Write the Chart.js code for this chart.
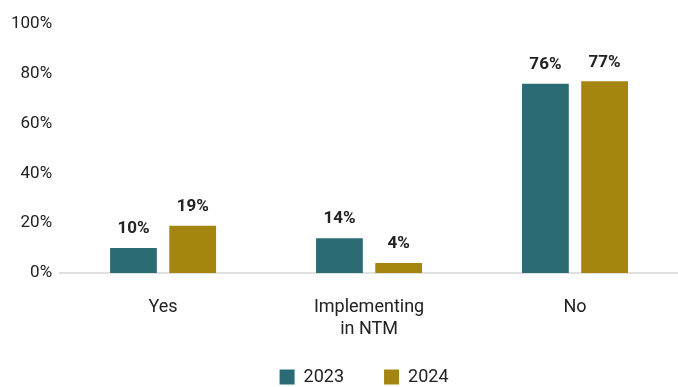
<!DOCTYPE html>
<html>
<head>
<meta charset="utf-8">
<script src="https://cdn.jsdelivr.net/npm/chart.js@4.4.1/dist/chart.umd.min.js"></script>
<style>
  html, body { margin: 0; padding: 0; background: #fff; }
  #wrap { width: 678px; height: 387px; position: relative; }
</style>
</head>
<body>
<div id="wrap"><canvas id="c"></canvas></div>
<script>
// Survey responses by year
const categories = ["Yes", ["Implementing", "in NTM"], "No"];
const values2023 = [10, 14, 76];
const values2024 = [19, 4, 77];
const seriesNames = ["2023", "2024"];
const yTicks = [0, 20, 40, 60, 80, 100];

const FONT = "Roboto, 'Noto Sans', sans-serif";
const TEXT = "#222222";

// Draws the percentage above each bar
const valueLabels = {
  id: "valueLabels",
  afterDatasetsDraw(chart) {
    const ctx = chart.ctx;
    ctx.save();
    ctx.font = "bold 17px " + FONT;
    ctx.fillStyle = TEXT;
    ctx.textAlign = "center";
    ctx.textBaseline = "middle";
    chart.data.datasets.forEach((ds, i) => {
      chart.getDatasetMeta(i).data.forEach((bar, j) => {
        ctx.fillText(ds.data[j] + "%", bar.x, bar.y - 19);
      });
    });
    ctx.restore();
  }
};

// Centre the legend under the plot area and tuck it up a little
const legendUnderPlot = {
  id: "legendUnderPlot",
  afterLayout(chart) {
    const lg = chart.legend, area = chart.chartArea;
    if (!lg) return;
    const shift = (area.left + area.right) / 2 - (lg.left + lg.right) / 2 - 5;
    lg.left += shift;
    lg.right += shift;
    lg.top -= 13;
    lg.bottom -= 13;
  }
};

new Chart(document.getElementById("c"), {
  type: "bar",
  data: {
    labels: categories,
    datasets: [
      { label: seriesNames[0], data: values2023, backgroundColor: "#2B6C74",
        categoryPercentage: 0.575, barPercentage: 0.79 },
      { label: seriesNames[1], data: values2024, backgroundColor: "#A3850F",
        categoryPercentage: 0.575, barPercentage: 0.79 }
    ]
  },
  options: {
    responsive: true,
    maintainAspectRatio: false,
    animation: false,
    layout: { padding: { top: 24, right: 0, left: 3, bottom: -22 } },
    plugins: {
      tooltip: { enabled: false },
      legend: {
        position: "bottom",
        labels: {
          font: { family: FONT, size: 18 },
          color: TEXT,
          boxWidth: 15,
          boxHeight: 15,
          padding: 40
        }
      }
    },
    scales: {
      x: {
        grid: { display: false, drawTicks: false },
        border: { display: true, color: "#E0E0E0", width: 2 },
        ticks: { font: { family: FONT, size: 18, lineHeight: 1.2 }, color: TEXT, padding: 24 },
        afterFit(axis) { axis.height = 68; }
      },
      y: {
        min: 0, max: 100,
        afterBuildTicks(axis) { axis.ticks = yTicks.map(v => ({ value: v })); },
        grid: { display: false, drawTicks: false },
        border: { display: false },
        ticks: {
          font: { family: FONT, size: 17 }, color: TEXT, padding: 8,
          callback: v => v + "%"
        }
      }
    }
  },
  plugins: [valueLabels, legendUnderPlot]
});
</script>
</body>
</html>
